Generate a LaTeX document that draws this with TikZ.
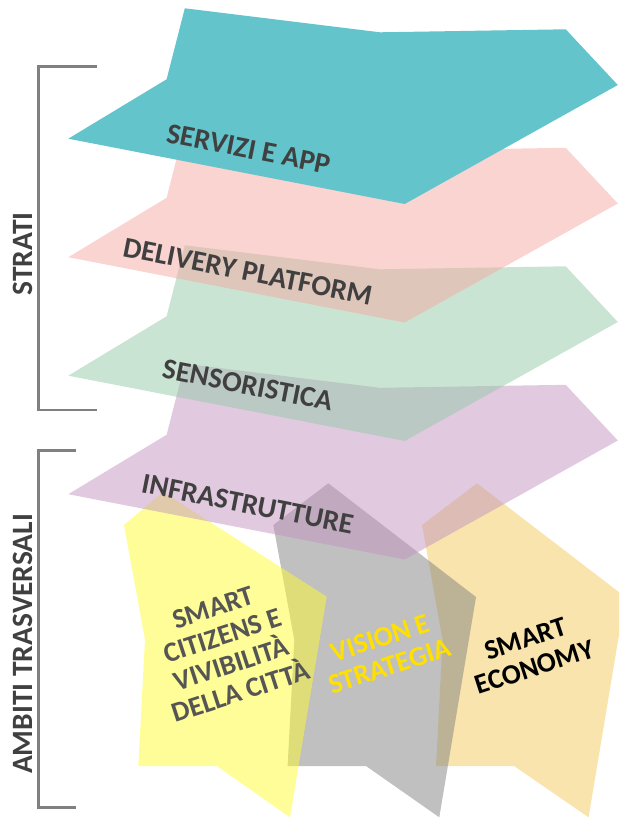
\documentclass[tikz,border=0pt]{standalone}
\usepackage{fontspec}
\setmainfont{Carlito}
\definecolor{tealc}{RGB}{99,196,204}
\definecolor{pinkc}{RGB}{243,169,163}
\definecolor{greenc}{RGB}{149,201,167}
\definecolor{purplec}{RGB}{195,149,193}
\definecolor{yellowc}{RGB}{255,251,47}
\definecolor{grayc}{RGB}{129,129,129}
\definecolor{orangec}{RGB}{241,201,89}
\definecolor{txtdark}{RGB}{64,64,64}
\definecolor{txtcit}{RGB}{85,85,85}
\definecolor{txtvis}{RGB}{255,224,0}
\definecolor{brgray}{RGB}{128,128,128}
\begin{document}
\begin{tikzpicture}[x=1pt,y=-1pt,
  layer/.style={fill opacity=0.5},
  lbl/.style={font=\bfseries\fontsize{29}{29}\selectfont, text=txtdark, inner sep=0pt, align=center},
  lblb/.style={font=\bfseries\fontsize{28}{29.5}\selectfont, inner sep=0pt, align=center},
  lbls/.style={font=\bfseries\fontsize{29.5}{30}\selectfont, text=txtdark, inner sep=0pt},
  bracket/.style={draw=brgray, line width=2.5pt}]
\useasboundingbox (0,0) rectangle (619,818);
\clip (0,0) rectangle (619,818);
% bottom shapes
\fill[orangec, layer] (477,483.3) -- (625.3,597) -- (588.6,817.3) -- (514,766) -- (436,766) -- (442.6,640) -- (422,525) -- cycle;
\fill[grayc, layer] (328.3,483.3) -- (476,597) -- (439.3,817.3) -- (366,766) -- (287.6,766) -- (294.3,640) -- (273.3,525) -- cycle;
\fill[yellowc, layer] (163,492) -- (326.7,596.7) -- (290,817.3) -- (216.7,766) -- (138.3,766) -- (145,640) -- (124,525) -- cycle;
% layers
\begin{scope}[shift={(0,355.5)}]
\fill[purplec, layer] (184.8,8.3) -- (380,32.3) -- (565.7,29.3) -- (617.8,85) -- (404.7,204) -- (68.3,138.7) -- (166.6,79.3) -- cycle;
\end{scope}
\begin{scope}[shift={(0,237)}]
\fill[greenc, layer] (184.8,8.3) -- (380,32.3) -- (565.7,29.3) -- (617.8,85) -- (404.7,204) -- (68.3,138.7) -- (166.6,79.3) -- cycle;
\end{scope}
\begin{scope}[shift={(0,118.5)}]
\fill[pinkc, layer] (184.8,8.3) -- (380,32.3) -- (565.7,29.3) -- (617.8,85) -- (404.7,204) -- (68.3,138.7) -- (166.6,79.3) -- cycle;
\end{scope}
\fill[tealc] (184.8,8.3) -- (380,32.3) -- (565.7,29.3) -- (617.8,85) -- (404.7,204) -- (68.3,138.7) -- (166.6,79.3) -- cycle;
% brackets
\draw[bracket] (97,66.7) -- (38.7,66.7) -- (38.7,410) -- (97,410);
\draw[bracket] (75.8,450.7) -- (38.7,450.7) -- (38.7,807.7) -- (75.8,807.7);
% labels
\node[lbl, rotate=-11.2] (servizi) at (248.5,149) {SERVIZI E APP};
\node[lbl, rotate=-11.2] (delivery) at (247.7,271.5) {DELIVERY PLATFORM};
\node[lbl, rotate=-11.2] (senso) at (247.7,385) {SENSORISTICA};
\node[lbl, rotate=-11.2] (infra) at (247.7,504) {INFRASTRUTTURE};
\node[lblb, text=txtcit, rotate=18] (citizens) at (227,650) {SMART\\CITIZENS E\\VIVIBILITÀ\\DELLA CITTÀ};
\node[lblb, text=txtvis, rotate=18] (vision) at (385,652) {VISION E\\STRATEGIA};
\node[lblb, text=black, rotate=18] (economy) at (530,653) {SMART\\ECONOMY};
\node[lbls, rotate=90] (strati) at (22.7,254) {STRATI};
\node[lbls, rotate=90] (ambiti) at (22.7,644) {AMBITI TRASVERSALI};
\end{tikzpicture}
\end{document}
